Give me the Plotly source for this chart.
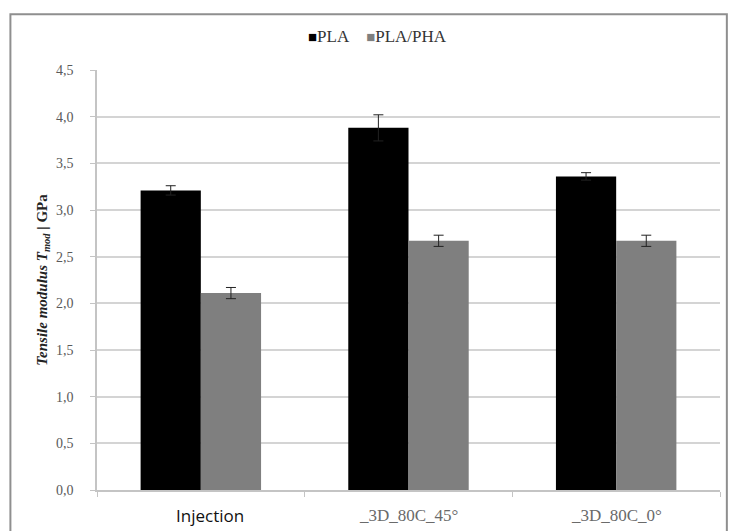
import plotly.graph_objects as go

categories = ["Injection", "_3D_80C_45°", "_3D_80C_0°"]
pla_values = [3.21, 3.88, 3.36]
pla_errors = [0.05, 0.14, 0.04]
pha_values = [2.11, 2.67, 2.67]
pha_errors = [0.06, 0.06, 0.06]
y_ticks = [0, 0.5, 1.0, 1.5, 2.0, 2.5, 3.0, 3.5, 4.0, 4.5]

serif = "Liberation Serif"
sans = "Open Sans"
bar_colors = {"PLA": "#000000", "PLA/PHA": "#7f7f7f"}

fig = go.Figure()
fig.add_trace(go.Bar(
    name="PLA", x=categories, y=pla_values,
    marker=dict(color=bar_colors["PLA"], line=dict(width=0)),
    error_y=dict(type="data", array=pla_errors, color="#222222", thickness=1, width=5),
))
fig.add_trace(go.Bar(
    name="PLA/PHA", x=categories, y=pha_values,
    marker=dict(color=bar_colors["PLA/PHA"], line=dict(width=0)),
    error_y=dict(type="data", array=pha_errors, color="#222222", thickness=1, width=5),
))

# outer chart frame
fig.add_shape(type="rect", xref="paper", yref="paper",
              x0=-0.139, x1=1.011, y0=-0.12, y1=1.133,
              line=dict(color="#8f8f8f", width=2), fillcolor="rgba(0,0,0,0)",
              layer="below")

# legend line: small coloured squares right before each series name
legend_text = "\u00a0\u00a0\u00a0\u00a0".join(
    f"<span style='color:{bar_colors[name]};font-size:15px'>■</span>{name}"
    for name in ["PLA", "PLA/PHA"]
)
fig.add_annotation(text=legend_text, xref="paper", yref="paper",
                   x=0.451, y=1.079, xanchor="center", yanchor="middle",
                   showarrow=False, font=dict(family=serif, size=17, color="#333333"))

# category labels under the axis
for cat in categories:
    is_first = cat == categories[0]
    fig.add_annotation(
        text=cat, x=cat, xref="x", yref="paper", y=-0.06,
        xshift=9 if is_first else 0, yanchor="middle", showarrow=False,
        font=dict(family=sans if is_first else serif, size=17,
                  color="#111111" if is_first else "#6a6a6a"),
    )

tick_text = [f"{v:.1f}".replace(".", ",") for v in y_ticks]

fig.update_layout(
    width=731, height=531,
    margin=dict(l=97, r=11, t=70, b=41),
    paper_bgcolor="white", plot_bgcolor="white",
    barmode="group", bargap=0.42, bargroupgap=0,
    font=dict(family=serif, color="#555555", size=14),
    showlegend=False,
    xaxis=dict(
        tickmode="array", tickvals=categories, showticklabels=False,
        tickson="boundaries", ticks="outside", ticklen=5, tickcolor="#c4c4c4",
        showline=True, linecolor="#c4c4c4", linewidth=1.5,
        showgrid=False,
    ),
    yaxis=dict(
        range=[0, 4.5], tickmode="array", tickvals=y_ticks, ticktext=tick_text,
        ticks="outside", ticklen=5, tickcolor="#c4c4c4",
        showline=True, linecolor="#c4c4c4", linewidth=1.5,
        showgrid=True, gridcolor="#d4d4d4", gridwidth=1.5,
        zeroline=False, ticklabelstandoff=14,
        tickfont=dict(family=serif, size=14, color="#5a5a5a"),
        title=dict(text="<b><i>Tensile modulus T<sub>mod</sub></i> | GPa</b>",
                   font=dict(family=serif, size=15, color="#222222"), standoff=5),
    ),
)

fig.write_html("out.html")
